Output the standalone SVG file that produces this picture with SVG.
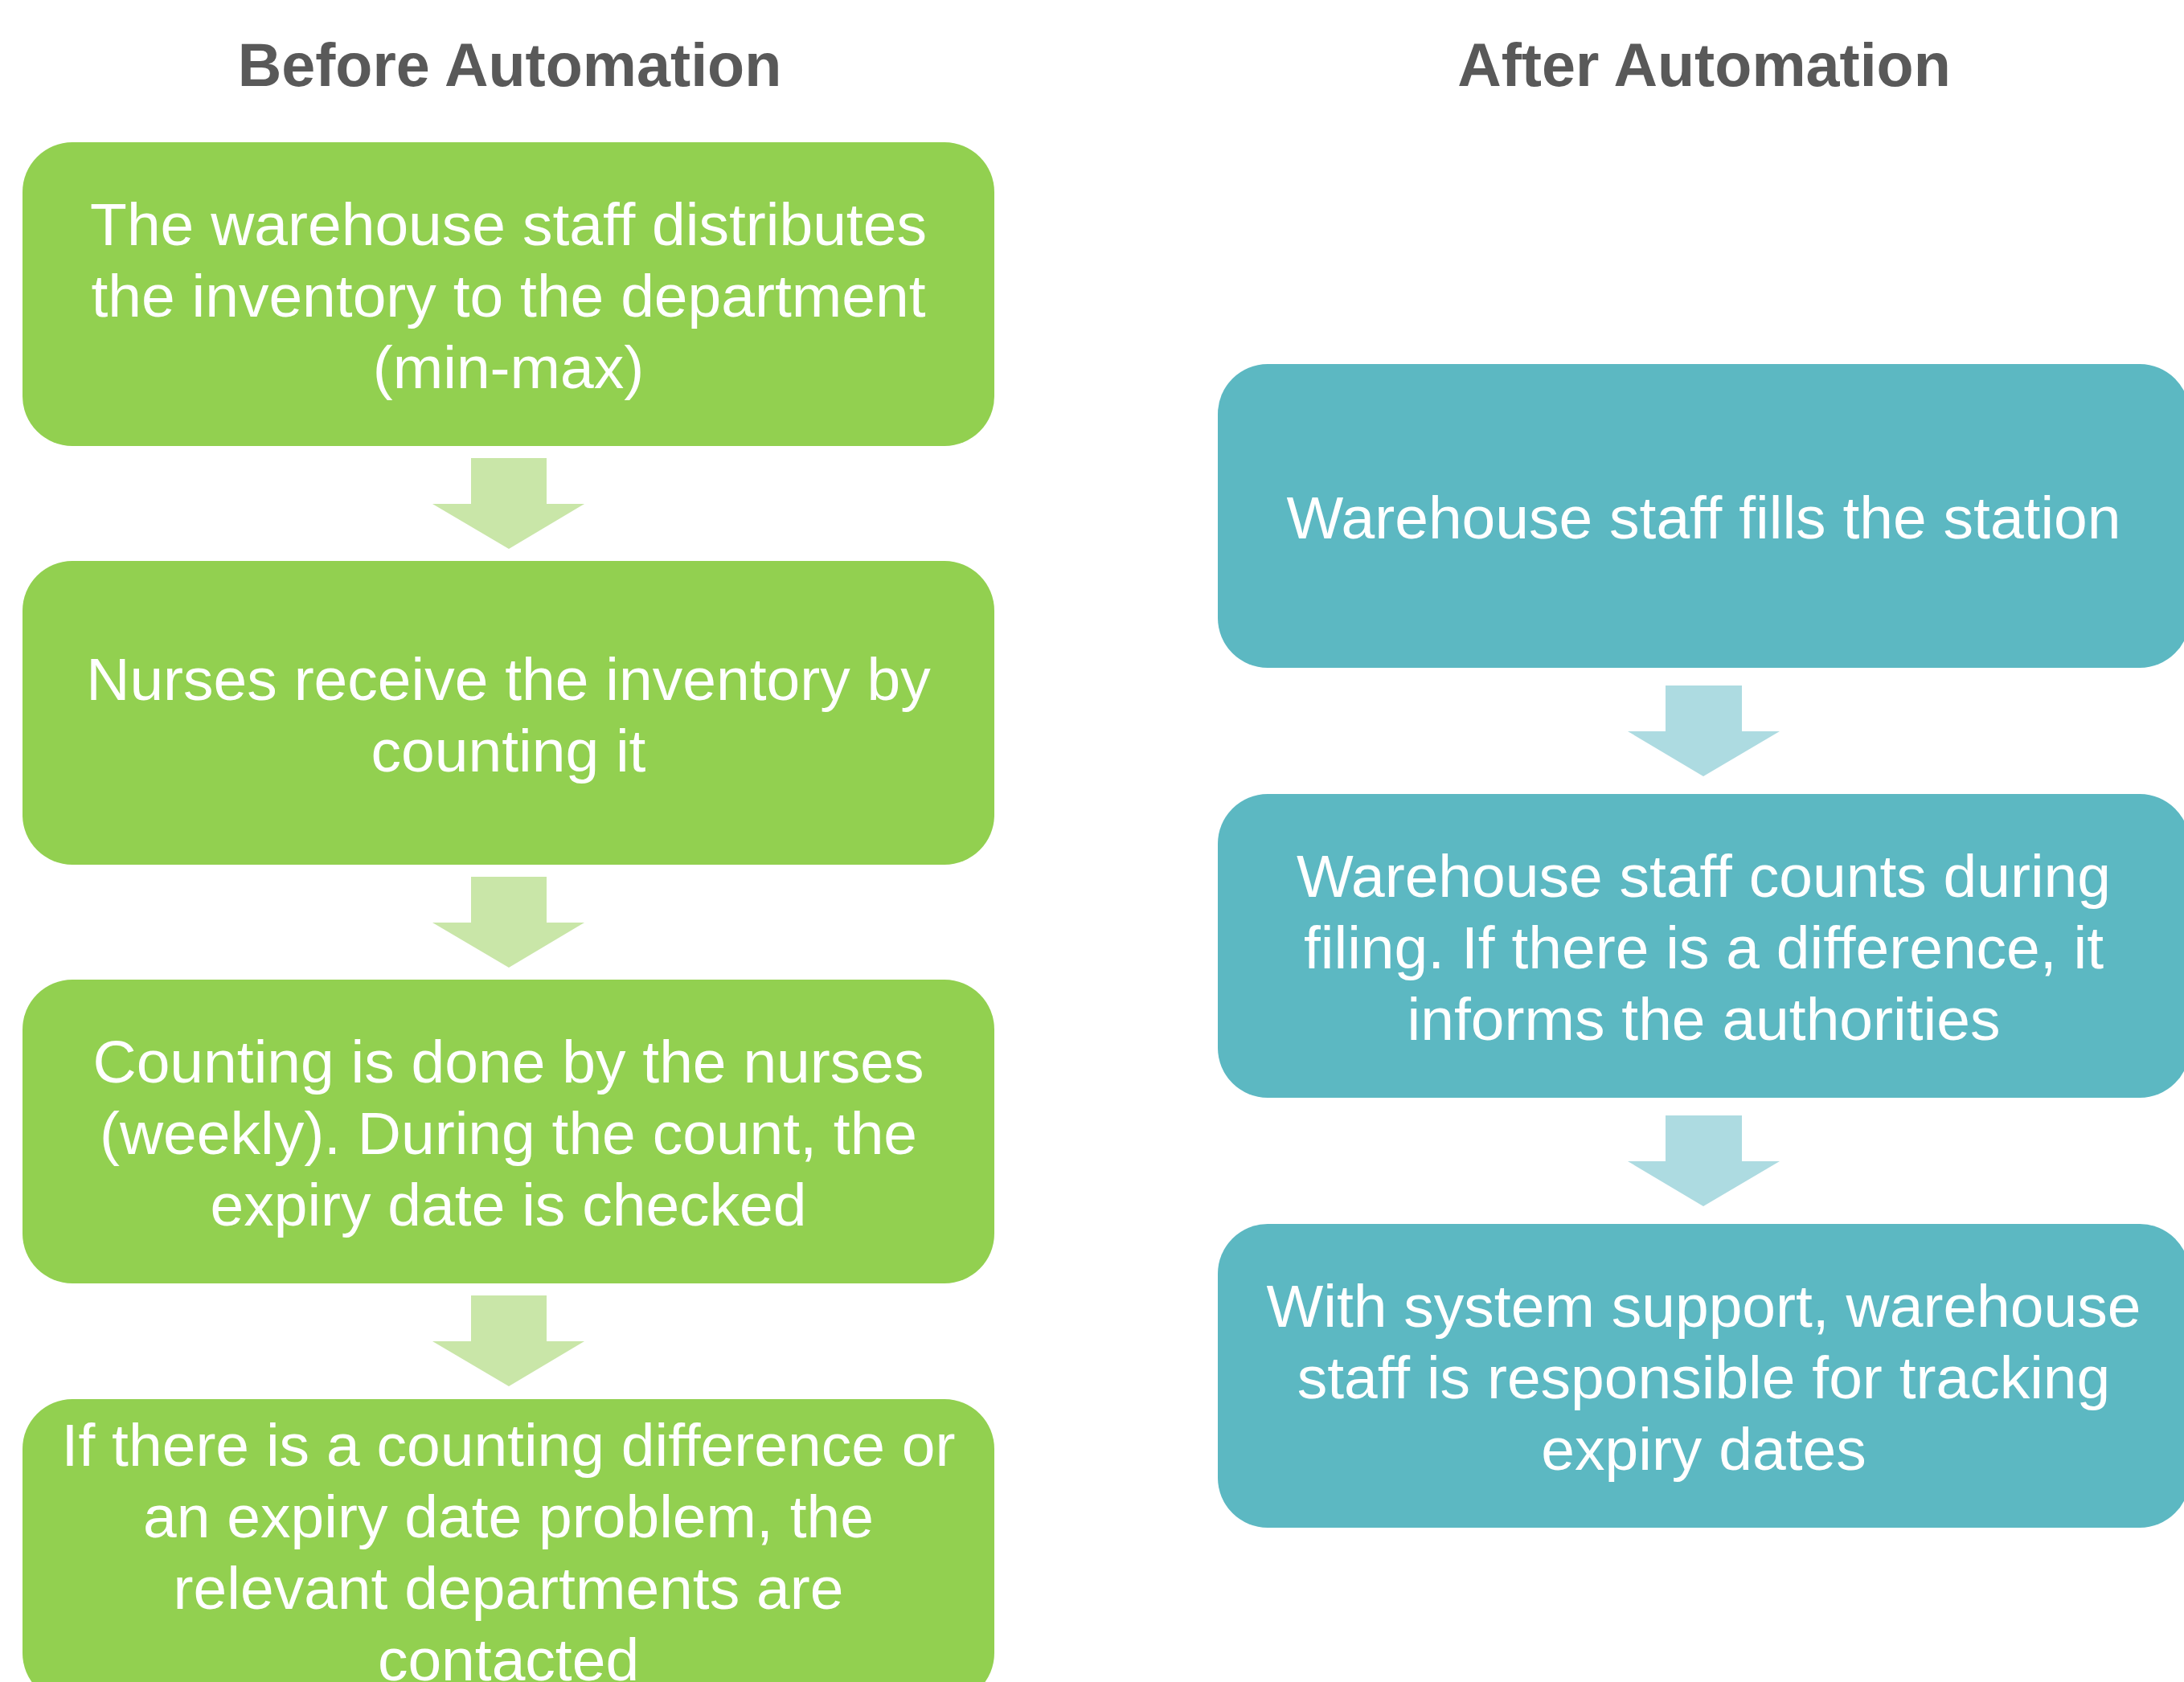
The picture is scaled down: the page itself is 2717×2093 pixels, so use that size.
<svg xmlns="http://www.w3.org/2000/svg" width="2717" height="2093" viewBox="0 0 2717 2093">
<style>
.title{font-family:"Liberation Sans",Arial,sans-serif;font-weight:bold;font-size:75.5px;fill:#595959;text-anchor:middle}
.t{font-family:"Liberation Sans",Arial,sans-serif;font-size:75px;fill:#FFFFFF;text-anchor:middle}
.g{fill:#92D050}
.b{fill:#5CB8C2}
.ga{fill:#C9E6A8}
.ba{fill:#ADDBE1}
</style>
<rect x="0" y="0" width="2717" height="2093" fill="#FFFFFF"/>
<text class="title" x="634" y="107">Before Automation</text>
<text class="title" x="2120" y="107">After Automation</text>

<g id="connectors">
<polygon class="ga" points="586,570 680,570 680,627 727,627 633,683 538,627 586,627"/>
<polygon class="ga" points="586,1091 680,1091 680,1148 727,1148 633,1204 538,1148 586,1148"/>
<polygon class="ga" points="586,1612 680,1612 680,1669 727,1669 633,1725 538,1669 586,1669"/>
<polygon class="ba" points="2072,853 2167,853 2167,910 2214,910 2119,966 2025,910 2072,910"/>
<polygon class="ba" points="2072,1388 2167,1388 2167,1445 2214,1445 2119,1501 2025,1445 2072,1445"/>
</g>

<g id="before1">
<rect class="g" x="28" y="177" width="1209" height="378" rx="62" ry="62"/>
<text class="t" x="632.5" y="305">The warehouse staff distributes</text>
<text class="t" x="632.5" y="394">the inventory to the department</text>
<text class="t" x="632.5" y="483">(min-max)</text>
</g>
<g id="before2">
<rect class="g" x="28" y="698" width="1209" height="378" rx="62" ry="62"/>
<text class="t" x="632.5" y="871">Nurses receive the inventory by</text>
<text class="t" x="632.5" y="960">counting it</text>
</g>
<g id="before3">
<rect class="g" x="28" y="1219" width="1209" height="378" rx="62" ry="62"/>
<text class="t" x="632.5" y="1347">Counting is done by the nurses</text>
<text class="t" x="632.5" y="1436">(weekly). During the count, the</text>
<text class="t" x="632.5" y="1525">expiry date is checked</text>
</g>
<g id="before4">
<rect class="g" x="28" y="1741" width="1209" height="378" rx="62" ry="62"/>
<text class="t" x="632.5" y="1824">If there is a counting difference or</text>
<text class="t" x="632.5" y="1913">an expiry date problem, the</text>
<text class="t" x="632.5" y="2002">relevant departments are</text>
<text class="t" x="632.5" y="2091">contacted</text>
</g>

<g id="after1">
<rect class="b" x="1515" y="453" width="1209" height="378" rx="62" ry="62"/>
<text class="t" x="2119.5" y="670">Warehouse staff fills the station</text>
</g>
<g id="after2">
<rect class="b" x="1515" y="988" width="1209" height="378" rx="62" ry="62"/>
<text class="t" x="2119.5" y="1116">Warehouse staff counts during</text>
<text class="t" x="2119.5" y="1205">filing. If there is a difference, it</text>
<text class="t" x="2119.5" y="1294">informs the authorities</text>
</g>
<g id="after3">
<rect class="b" x="1515" y="1523" width="1209" height="378" rx="62" ry="62"/>
<text class="t" x="2119.5" y="1651">With system support, warehouse</text>
<text class="t" x="2119.5" y="1740">staff is responsible for tracking</text>
<text class="t" x="2119.5" y="1829">expiry dates</text>
</g>
</svg>
